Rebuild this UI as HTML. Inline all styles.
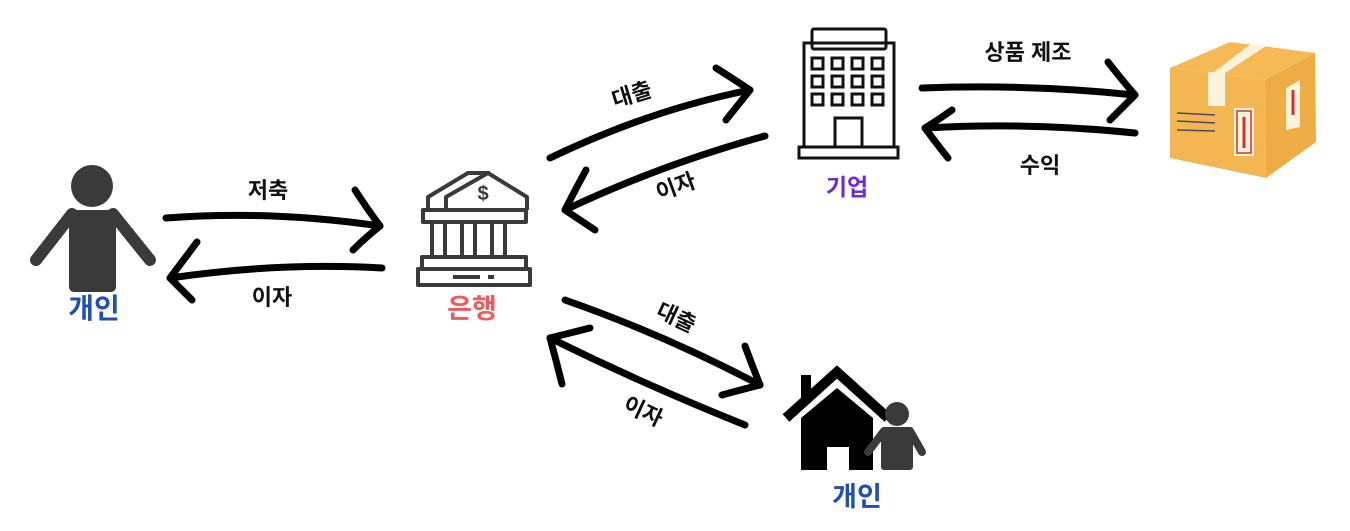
<!DOCTYPE html>
<html><head><meta charset="utf-8"><style>
html,body{margin:0;padding:0;background:#fff;width:1350px;height:531px;overflow:hidden}
text{font-family:"Liberation Sans","Noto Sans CJK KR",sans-serif;font-weight:bold}
</style></head><body>
<svg width="1350" height="531" viewBox="0 0 1350 531" xmlns="http://www.w3.org/2000/svg">
<g fill="none" stroke="#000" stroke-width="7" stroke-linecap="round" stroke-linejoin="round">
<path d="M166 218 Q270 210 380 226"/><path d="M355 190 Q368 210 380 226 Q365 238 353 250"/>
<path d="M382 268 Q280 262 170 278"/><path d="M197 242 Q182 262 170 278 Q182 290 192 300"/>
<path d="M550 158 Q650 110 750 90"/><path d="M716 68 Q735 80 750 90 Q738 105 726 120"/>
<path d="M765 136 Q660 165 565 210"/><path d="M586 170 Q575 190 565 210 Q580 220 595 230"/>
<path d="M922 88 Q1030 84 1135 95"/><path d="M1108 62 Q1122 80 1135 95 Q1122 108 1110 120"/>
<path d="M1135 133 Q1030 122 925 128"/><path d="M952 110 Q938 120 925 128 Q936 143 948 158"/>
<path d="M565 300 Q665 335 760 385"/><path d="M745 346 Q752 365 760 385 Q740 390 722 395"/>
<path d="M745 425 Q645 385 550 338"/><path d="M562 384 Q556 360 550 338 Q570 333 590 328"/>
</g>
<g font-size="22" fill="#111" text-anchor="middle">
<text x="268" y="198">저축</text>
<text x="272" y="305">이자</text>
<text x="632" y="102" transform="rotate(-17 632 95)">대출</text>
<text x="676" y="194" transform="rotate(-20 676 187)">이자</text>
<text x="1028" y="60">상품 제조</text>
<text x="1040" y="173">수익</text>
<text x="676" y="325" transform="rotate(25 676 318)">대출</text>
<text x="643" y="419" transform="rotate(25 643 412)">이자</text>
</g>
<g fill="#3a3a3a">
<circle cx="92" cy="186" r="21"/>
<rect x="69" y="210" width="47" height="82" rx="5"/>
<path d="M72 214 L36 260" stroke="#3a3a3a" stroke-width="12" stroke-linecap="round"/>
<path d="M113 214 L150 260" stroke="#3a3a3a" stroke-width="12" stroke-linecap="round"/>
</g>
<text x="94" y="318" font-size="28" fill="#1f4fb0" text-anchor="middle">개인</text>
<g fill="none" stroke="#3a3a3a" stroke-width="4" stroke-linejoin="round">
<path d="M428 210 L428 197 L468 173 L490 173"/>
<path d="M446 210 L446 197 L488 173 L527 197 L527 210"/>
<rect x="423" y="210" width="103" height="12"/>
<rect x="432" y="222" width="13" height="35"/><rect x="462" y="222" width="13" height="35"/><rect x="492" y="222" width="13" height="35"/>
<rect x="422" y="257" width="104" height="12"/>
<rect x="418" y="269" width="112" height="16"/>
</g>
<line x1="453" y1="277" x2="480" y2="277" stroke="#3a3a3a" stroke-width="4"/>
<line x1="488" y1="277" x2="494" y2="277" stroke="#3a3a3a" stroke-width="4"/>
<text x="483" y="200" font-size="20" fill="#3a3a3a" text-anchor="middle">$</text>
<text x="472" y="318" font-size="27" fill="#f05a5a" text-anchor="middle">은행</text>
<g fill="none" stroke="#111" stroke-width="3">
<rect x="812" y="29" width="74" height="20" rx="2"/>
<rect x="804" y="43" width="90" height="104"/>
<rect x="799" y="147" width="99" height="11"/>
<rect x="835" y="118" width="27" height="29"/>
<g>
<rect x="812" y="58" width="11" height="11"/><rect x="832" y="58" width="11" height="11"/><rect x="852" y="58" width="11" height="11"/><rect x="872" y="58" width="11" height="11"/>
<rect x="812" y="76" width="11" height="11"/><rect x="832" y="76" width="11" height="11"/><rect x="852" y="76" width="11" height="11"/><rect x="872" y="76" width="11" height="11"/>
<rect x="812" y="94" width="11" height="11"/><rect x="832" y="94" width="11" height="11"/><rect x="852" y="94" width="11" height="11"/><rect x="872" y="94" width="11" height="11"/>
</g>
</g>
<text x="847" y="195" font-size="23" fill="#6a2be0" text-anchor="middle">기업</text>
<path d="M1170 68 L1230 42 L1315 53 L1265 80 Z" fill="#f5b955"/>
<path d="M1170 68 L1265 80 L1266 178 L1170 158 Z" fill="#f4b650"/>
<path d="M1265 80 L1315 53 L1316 142 L1266 178 Z" fill="#eeac45"/>
<path d="M1214 72 L1225 73 L1266 46 L1251 44 Z" fill="#fdf3dc"/>
<rect x="1208" y="72" width="17" height="34" fill="#fdf3dc"/>
<g stroke="#4a4a6a" stroke-width="1.5"><line x1="1177" y1="113" x2="1215" y2="115"/><line x1="1177" y1="121" x2="1215" y2="123"/><line x1="1177" y1="130" x2="1215" y2="131"/></g>
<rect x="1234" y="108" width="20" height="48" fill="#fdf3dc"/><rect x="1237" y="111" width="14" height="42" fill="none" stroke="#c33" stroke-width="1.5"/>
<line x1="1244" y1="117" x2="1244" y2="148" stroke="#c33" stroke-width="3"/>
<path d="M1286 88 L1300 80 L1300 127 L1286 130 Z" fill="#fdf3dc"/>
<line x1="1293" y1="90" x2="1293" y2="115" stroke="#c33" stroke-width="3"/>
<path d="M786 418 L837 372 L888 418" fill="none" stroke="#000" stroke-width="10"/>
<rect x="801" y="375" width="10" height="25" fill="#000"/>
<path d="M801 418 L837 388 L873 418 L873 470 L801 470 Z" fill="#000"/>
<rect x="827" y="447" width="22" height="23" fill="#fff"/>
<g fill="#3a3a3a">
<circle cx="897" cy="414" r="12"/>
<rect x="881" y="427" width="32" height="43" rx="3"/>
<path d="M884 431 L868 452" stroke="#3a3a3a" stroke-width="8" stroke-linecap="round"/>
<path d="M910 431 L922 452" stroke="#3a3a3a" stroke-width="8" stroke-linecap="round"/>
</g>
<text x="857" y="506" font-size="27" fill="#1f4fb0" text-anchor="middle">개인</text>
</svg>
</body></html>
